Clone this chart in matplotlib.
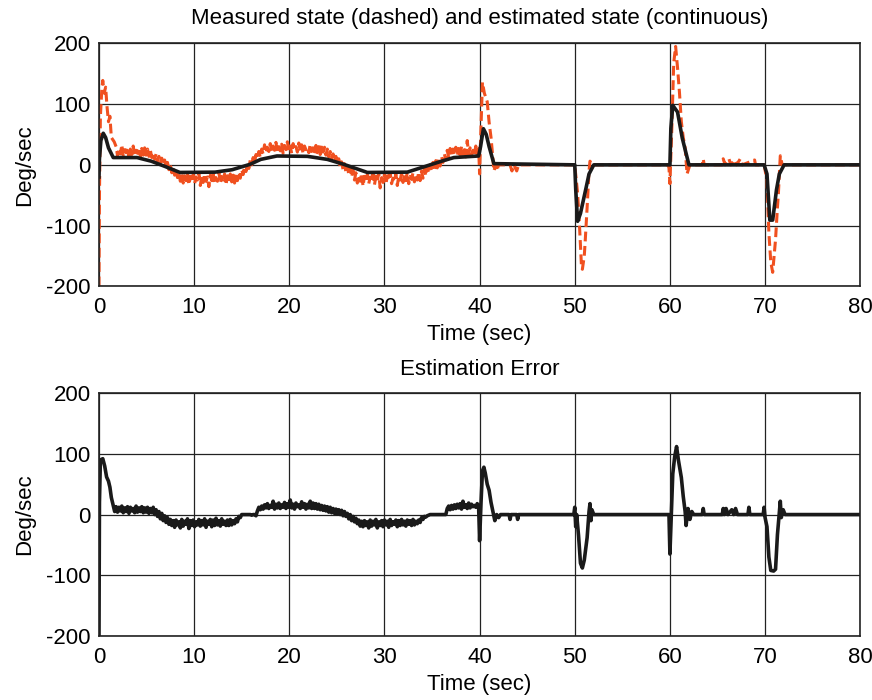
import numpy as np
import matplotlib
matplotlib.use("Agg")
from matplotlib import pyplot as plt

plt.rcParams['font.family'] = ['Liberation Sans', 'DejaVu Sans']
plt.rcParams['axes.unicode_minus'] = False

# measured state (dashed, orange) -- start transient
meas_head_t = [0, 0.05, 0.15, 0.3, 0.4, 0.55, 0.7, 0.85, 1.0, 1.15, 1.3, 1.6]
meas_head_v = [-200, -50, 80, 125, 139, 118, 128, 95, 71, 80, 45, 38]

# measured state, noisy part sampled every 0.15 s from 1.8 s to 39.9 s
meas_noise_start, meas_noise_step = 1.8, 0.15
meas_noise_v = [
    30, 15, 27, 18, 33, 14, 25, 20, 29, 12, 26, 17, 31, 15, 24, 19, 28, 13, 27, 16,
    28, 16, 26, 14, 24, 12, 20, 9, 18, 6, 14, 3, 11, 0, 8, -4, 4, -8, 0, -13,
    -4, -17, -8, -21, -12, -27, -15, -30, -18, -26, -14, -33, -19, -28, -16, -31, -20, -25, -13, -34,
    -18, -29, -15, -27, -20, -36, -17, -26, -14, -31, -21, -27, -12, -30, -19, -25, -15, -33, -18, -28,
    -15, -28, -17, -30, -14, -26, -12, -22, -8, -16, -3, -11, 2, -6, 8, 0, 12, 4, 17, 10,
    22, 12, 26, 18, 33, 20, 29, 22, 35, 21, 31, 24, 37, 20, 30, 23, 34, 19, 32, 25,
    38, 22, 31, 19, 35, 24, 30, 21, 36, 23, 33, 18, 31, 25, 29, 20, 34, 22, 28, 19,
    32, 20, 30, 17, 33, 21, 29, 16, 26, 13, 22, 10, 18, 6, 14, 2, 10, -4, 5, -8,
    2, -12, -2, -16, -5, -20, -9, -25, -13, -30, -17, -27, -14, -35, -19, -28, -16, -31, -20, -26,
    -15, -33, -19, -27, -14, -38, -21, -29, -16, -32, -18, -26, -13, -31, -22, -28, -15, -34, -19, -25,
    -14, -29, -17, -26, -12, -31, -19, -24, -13, -28, -16, -25, -12, -26, -10, -22, -7, -18, -4, -13,
    0, -11, 4, -8, 7, -5, 10, -2, 14, 4, 18, 8, 24, 12, 27, 14, 26, 16, 29, 15,
    27, 14, 30, 17, 25, 13, 40, 18, 28, 15, 24, 16, 31, 18, 27]

# measured state, manoeuvres after 40 s
meas_tail_t = [40.0, 40.1, 40.3, 40.5, 40.8, 41.0, 41.2, 41.4, 41.5, 41.7, 41.8, 42.0,
               43.2, 43.4, 43.6, 43.9, 44.1, 50.0,
               50.3, 50.5, 50.7, 50.8, 51.0, 51.1, 51.3, 51.5, 51.6, 51.9,
               59.8, 59.9, 60.0, 60.2, 60.4, 60.6, 60.8, 61.0, 61.2, 61.4, 61.6, 61.8,
               62.1, 63.4, 63.5, 63.6, 65.5, 65.6, 65.8, 66.2, 66.4, 66.8, 67.0, 67.4,
               67.6, 68.9, 69.0, 69.9,
               70.2, 70.4, 70.6, 70.8, 71.0, 71.1, 71.3, 71.4, 71.6, 71.8, 80]
meas_tail_v = [-15, 40, 136, 118, 104, 70, 45, 10, -10, 0, -10, 0,
               0, -10, 0, -10, 0, 0,
               -47, -101, -165, -172, -150, -125, -70, -10, 6, 0,
               0, -5, -31, 60, 168, 195, 160, 120, 71, 45, 28, -15,
               0, 0, 10, 0, 0, 10, 0, 10, 0, 8, 0, 10,
               0, 8, 0, 0,
               -26, -112, -160, -177, -140, -123, -70, -47, 15, 0, 0]

# estimated state (continuous, black)
est_t = [0, 0.05, 0.2, 0.45, 0.7, 1.0, 1.5, 4.0, 5.5, 7.0, 8.5, 12.2, 14.0,
         15.9, 17.0, 18.7, 21.9, 24.0, 25.7, 28.2, 32.4, 34.5, 36.0, 37.3, 39.9,
         40.1, 40.4, 40.7, 41.0, 41.5, 50.0, 50.1, 50.3, 50.6, 51.2, 51.5, 52.0,
         60.0, 60.1, 60.3, 60.8, 61.3, 62.0, 69.9, 70.2, 70.5, 70.8, 71.2, 71.5,
         72.0, 80]
est_v = [-20, 10, 40, 52, 45, 28, 12, 12, 6, -3, -12.5, -12, -8,
         1, 9, 14.6, 14, 9, 1, -12.5, -12, -1.5, 6, 12, 14.6,
         30, 59.5, 50, 30, 2, 0, -40, -93, -80, -37, -15, 0,
         0, 60, 98, 87, 44, 0, 0, -15, -91, -91, -41, -15,
         0, 0]

# estimation error -- start transient
err_head_t = [0, 0.05, 0.15, 0.4, 0.6, 0.8, 1.0, 1.15, 1.3]
err_head_v = [-200, 20, 90, 92, 80, 62, 55, 45, 28]

# estimation error, noisy part sampled every 0.15 s from 1.5 s to 39.9 s
err_noise_start, err_noise_step = 1.5, 0.15
err_noise_v = [
    15, 5, 13, 4, 12, 6, 14, 3, 11, 5, 13, 2, 12, 6, 10, 3, 14, 4, 11, 5,
    13, 3, 11, 4, 12, 2, 10, 3, 12, 0, 8, -3, 5, -7, 2, -10, -2, -13, -5, -16,
    -8, -18, -10, -21, -9, -17, -12, -22, -8, -19, -11, -16, -7, -23, -10, -18, -9, -20, -12, -17,
    -8, -19, -10, -17, -7, -21, -11, -16, -8, -20, -9, -18, -6, -17, -10, -19, -7, -16, -11, -18,
    -9, -18, -8, -17, -10, -15, -7, -12, -3, -5, 0, 0, 0, 0, 0, 0, 0, -1, 0, 0,
    -2, 6, 12, 8, 14, 9, 16, 11, 18, 10, 15, 12, 22, 9, 17, 11, 19, 10, 16, 12,
    20, 10, 18, 12, 24, 11, 17, 9, 19, 13, 16, 10, 21, 12, 18, 9, 17, 11, 22, 10,
    19, 10, 18, 9, 17, 8, 15, 7, 14, 6, 13, 4, 12, 3, 10, 2, 9, 1, 8, 0,
    7, -2, 5, -3, 2, -7, 0, -10, -3, -12, -6, -15, -9, -19, -11, -20, -10, -18, -12, -22,
    -9, -19, -11, -17, -8, -22, -12, -18, -10, -20, -9, -17, -11, -21, -8, -18, -12, -16, -9, -20,
    -10, -18, -8, -17, -11, -19, -9, -16, -10, -18, -8, -17, -11, -15, -9, -13, -5, -8, -3, -4,
    -2, -1, 0, 0, 0, 0, 0, 0, 0, 0, 0, 0, 0, 0, 10, 14, 8, 15, 9, 16,
    10, 17, 11, 18, 9, 22, 12, 16, 10, 19, 11, 17, 13, 15, 12, 18, 12]

# estimation error, manoeuvres after 40 s
err_tail_t = [40.0, 40.15, 40.3, 40.45, 40.6, 40.8, 41.0, 41.2, 41.4, 41.6, 41.8,
              42.0, 42.2, 43.1, 43.2, 43.3, 43.9, 44.0, 44.1, 49.9,
              50.0, 50.1, 50.2, 50.4, 50.6, 50.8, 51.0, 51.3, 51.5, 51.6, 51.7, 51.8,
              52.0, 59.9, 60.0, 60.1, 60.3, 60.5, 60.7, 60.9, 61.2, 61.4, 61.6, 61.7,
              61.9, 62.1, 62.3, 62.5, 63.4, 63.5, 63.6, 65.5, 65.6, 65.7, 65.9, 66.1,
              66.5, 66.7, 66.9, 67.1, 68.2, 68.3, 68.4, 69.8, 69.9, 70.0, 70.2, 70.4,
              70.6, 70.9, 71.1, 71.3, 71.5, 71.6, 71.7, 71.9, 72.1, 80]
err_tail_v = [-43, 20, 72, 78, 68, 50, 40, 20, 5, -10, 0,
              -5, 0, 0, -8, 0, 0, -8, 0, 0,
              12, -20, 0, -35, -80, -88, -75, -38, 5, 18, -10, 8,
              0, 0, -65, -20, 67, 95, 112, 89, 61, 30, 5, -18,
              10, -8, 5, 0, 0, 10, 0, 0, 10, 0, 10, 0,
              8, 0, 10, 0, 0, 12, 0, 0, 12, -5, -20, -70,
              -92, -93, -90, -33, 5, 22, -5, 8, 0, 0]

xticks = [0, 10, 20, 30, 40, 50, 60, 70, 80]
yticks = [-200, -100, 0, 100, 200]

# put the pieces together (sample times of the noisy parts)
meas_noise_t = meas_noise_start + meas_noise_step * np.arange(len(meas_noise_v))
meas_t = np.concatenate([meas_head_t, meas_noise_t, meas_tail_t])
meas_v = np.concatenate([meas_head_v, meas_noise_v, meas_tail_v])
err_noise_t = err_noise_start + err_noise_step * np.arange(len(err_noise_v))
err_t = np.concatenate([err_head_t, err_noise_t, err_tail_t])
err_v = np.concatenate([err_head_v, err_noise_v, err_tail_v])

fs = 16
fig = plt.figure(figsize=(8.72, 7.0), dpi=100)
ax1 = fig.add_axes([0.1135, 0.591, 0.873, 0.347])
ax2 = fig.add_axes([0.1135, 0.0914, 0.873, 0.347])

ax1.plot(meas_t, meas_v, color='#f0501f', lw=2.2, ls=(0, (3.2, 1.5)))
ax1.plot(est_t, est_v, color='#1a1a1a', lw=2.6)
ax1.set_title('Measured state (dashed) and estimated state (continuous)',
              fontsize=fs, pad=14)

ax2.plot(err_t, err_v, color='#1a1a1a', lw=2.6)
ax2.set_title('Estimation Error', fontsize=fs, pad=13)

for ax in (ax1, ax2):
    ax.set_xlim(0, 80)
    ax.set_ylim(-200, 200)
    ax.set_xticks(xticks)
    ax.set_yticks(yticks)
    ax.grid(True, color='#222222', lw=0.9, ls='-')
    ax.set_axisbelow(True)
    ax.tick_params(direction='in', labelsize=fs, length=0)
    ax.tick_params(axis='x', pad=8)
    ax.tick_params(axis='y', pad=6)
    ax.set_xlabel('Time (sec)', fontsize=fs, labelpad=4)
    ax.set_ylabel('Deg/sec', fontsize=fs, labelpad=8)
    for s in ax.spines.values():
        s.set_linewidth(1.2)
        s.set_color('#222222')

fig.savefig('out.png', dpi=100)
